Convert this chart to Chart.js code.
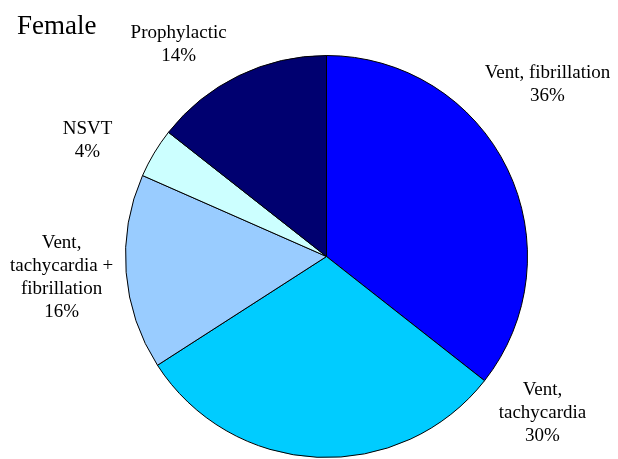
<!DOCTYPE html>
<html>
<head>
<meta charset="utf-8">
<script src="https://cdn.jsdelivr.net/npm/chart.js@4"></script>
<style>
  html, body { margin: 0; padding: 0; background: #fff; }
  #wrap { position: relative; width: 618px; height: 459px; }
</style>
</head>
<body>
<div id="wrap"><canvas id="c" width="618" height="459"></canvas></div>
<script>
// ---- data ----
const chartTitle = "Female";
const categories = ["Vent, fibrillation", "Vent, tachycardia", "Vent, tachycardia + fibrillation", "NSVT", "Prophylactic"];
const values = [35.6, 30.3, 15.7, 4.0, 14.4];
const percentLabels = ["36%", "30%", "16%", "4%", "14%"];
const labelLines = [
  ["Vent, fibrillation"],
  ["Vent,", "tachycardia"],
  ["Vent,", "tachycardia +", "fibrillation"],
  ["NSVT"],
  ["Prophylactic"]
];

// ---- styles / layout ----
const sliceColors = ["#0000FF", "#00CCFF", "#99CCFF", "#CCFFFF", "#000070"];
// label placement: angle (deg clockwise from 12 o'clock) and distance as a multiple of the pie radius
const labelPlacement = [
  { angle: 52.1, dist: 1.393 },
  { angle: 126.0, dist: 1.328 },
  { angle: 265.5, dist: 1.322 },
  { angle: 295.9, dist: 1.322 },
  { angle: 325.1, dist: 1.286 }
];
const FONT = '"Liberation Serif", "Times New Roman", serif';

const labelPlugin = {
  id: 'pieLabels',
  afterDraw(chart) {
    const ctx = chart.ctx;
    const meta = chart.getDatasetMeta(0);
    ctx.save();
    ctx.fillStyle = '#000';
    ctx.textAlign = 'center';
    ctx.textBaseline = 'middle';
    ctx.font = '19px ' + FONT;
    const lineH = 23;
    meta.data.forEach((arc, i) => {
      const p = labelPlacement[i];
      const a = p.angle * Math.PI / 180;
      const r = arc.outerRadius * p.dist;
      const cx = arc.x + r * Math.sin(a);
      const cy = arc.y - r * Math.cos(a);
      const lines = labelLines[i].concat([percentLabels[i]]);
      const top = cy - (lines.length - 1) * lineH / 2;
      lines.forEach((t, k) => ctx.fillText(t, cx, top + k * lineH));
    });
    // title
    ctx.textAlign = 'left';
    ctx.textBaseline = 'alphabetic';
    ctx.font = '27px ' + FONT;
    ctx.fillText(chartTitle, 17, 34);
    ctx.restore();
  }
};

new Chart(document.getElementById('c'), {
  type: 'pie',
  data: {
    labels: categories,
    datasets: [{
      data: values,
      backgroundColor: sliceColors,
      borderColor: '#000',
      borderWidth: 1
    }]
  },
  options: {
    responsive: false,
    animation: false,
    layout: { padding: { left: 125, right: 90, top: 55, bottom: 1 } },
    plugins: {
      legend: { display: false },
      tooltip: { enabled: false },
      title: { display: false }
    }
  },
  plugins: [labelPlugin]
});
</script>
</body>
</html>
